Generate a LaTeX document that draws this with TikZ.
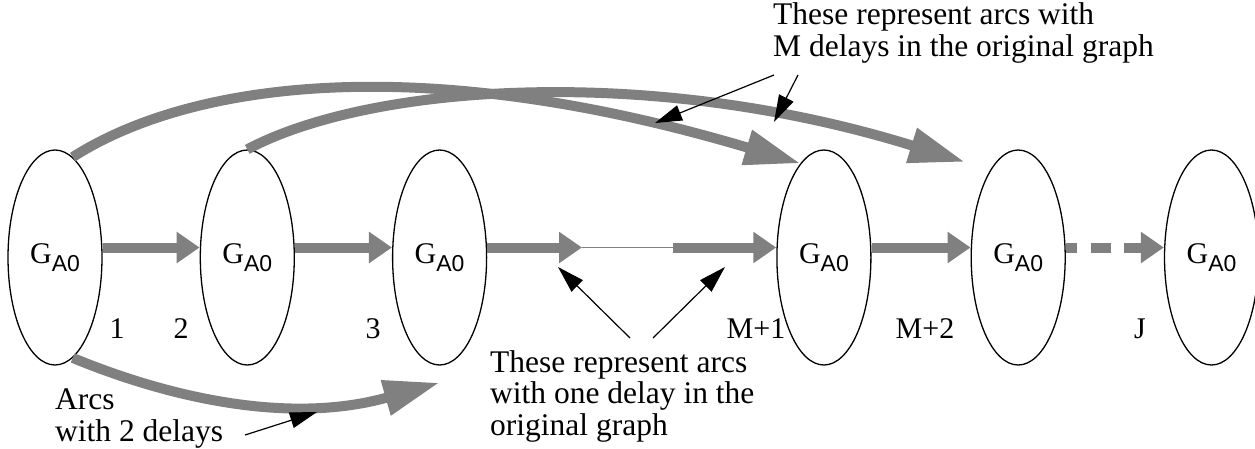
\documentclass[tikz,border=0pt]{standalone}
\usepackage{fontspec}
\setmainfont{Liberation Serif}
\setsansfont{Liberation Sans}
\usepackage{xcolor}
\definecolor{arcgray}{RGB}{128,128,128}
\usetikzlibrary{shapes.geometric, arrows.meta, positioning, calc}

\newcommand{\gsub}{G\raisebox{-8pt}{\fontsize{23}{23}\sffamily\selectfont A0}}

\begin{document}
\begin{tikzpicture}[
  x=1pt, y=-1pt,
  node distance=97pt,
  gnode/.style={ellipse, draw, line width=1.3pt, minimum width=94pt, minimum height=215pt,
               inner sep=0pt, font=\fontsize{30}{30}\selectfont},
  arr/.style={-{Triangle[length=23pt, width=30pt]}, line width=10pt, color=arcgray},
  bigarr/.style={-{Triangle[length=56pt, width=34pt]}, line width=10pt, color=arcgray},
  ptr/.style={-{Triangle[length=27pt, width=16pt]}, line width=1.2pt, black},
  note/.style={align=left, inner sep=0pt, anchor=base west, font=\fontsize{31.5}{31.5}\selectfont},
  num/.style={anchor=base, inner sep=0pt, font=\fontsize{30}{30}\selectfont}
]
\useasboundingbox (0,0) rectangle (1255,448);

% the unfolded copies
\node[gnode] (g1) at (55,257.5) {\gsub};
\node[gnode, right=of g1]        (g2)  {\gsub};
\node[gnode, right=of g2]        (g3)  {\gsub};
\node[gnode, right=289pt of g3]  (gm1) {\gsub};
\node[gnode, right=99pt of gm1]  (gm2) {\gsub};
\node[gnode, right=98pt of gm2]  (gj)  {\gsub};

\node[num] (n1)  at (117,338)  {1};
\node[num] (n2)  at (181,338)  {2};
\node[num] (n3)  at (373,338)  {3};
\node[num] (nm1) at (756,338)  {M+1};
\node[num] (nm2) at (925,338)  {M+2};
\node[num] (nj)  at (1140,338) {J};

% one-delay arcs
\coordinate (mida) at (582,247.5);
\coordinate (midb) at (673,247.5);
\draw[arr] ([yshift=10pt]g1.east) -- ([yshift=10pt]g2.west);
\draw[arr] ([yshift=10pt]g2.east) -- ([yshift=10pt]g3.west);
\draw[arr] ([yshift=10pt]g3.east) -- (mida);
\draw[arcgray, line width=1.2pt] (mida) -- ([xshift=5pt]midb);
\draw[arr] (midb) -- ([yshift=10pt]gm1.west);
\draw[arr] ([yshift=10pt]gm1.east) -- ([yshift=10pt]gm2.west);
\draw[arr, dash pattern=on 11pt off 14pt on 20pt off 13pt on 60pt]
  ([yshift=10pt]gm2.east) -- ([yshift=10pt]gj.west);

% M-delay and 2-delay arcs
\coordinate (tipm2) at (965,162);
\draw[bigarr] (g1.80) .. controls (190,82) and (420,50) .. (gm1.104);
\draw[bigarr] (g2.north) .. controls (370,84) and (650,64) .. (tipm2);
\draw[bigarr] (g1.-80) .. controls (170,398) and (290,425) .. ([yshift=-17pt]g3.south);

% notes
\node[note] (txtm) at (773,56) {These represent arcs with\\M delays in the original graph};
\node[note] (txt1) at (490,435) {These represent arcs\\with one delay in the\\original graph};
\node[note] (txt2) at (55,441) {Arcs\\with 2 delays};

\coordinate (pa) at (774,75);  \coordinate (pa') at (655,123);
\coordinate (pb) at (798,75);  \coordinate (pb') at (774,122);
\coordinate (pc) at (630,338); \coordinate (pc') at (558,267);
\coordinate (pd) at (653,338); \coordinate (pd') at (725,267);
\coordinate (pe) at (245,435); \coordinate (pe') at (317,412);
\draw[ptr] (pa) -- (pa');
\draw[ptr] (pb) -- (pb');
\draw[ptr] (pc) -- (pc');
\draw[ptr] (pd) -- (pd');
\draw[ptr] (pe) -- (pe');
\end{tikzpicture}
\end{document}
